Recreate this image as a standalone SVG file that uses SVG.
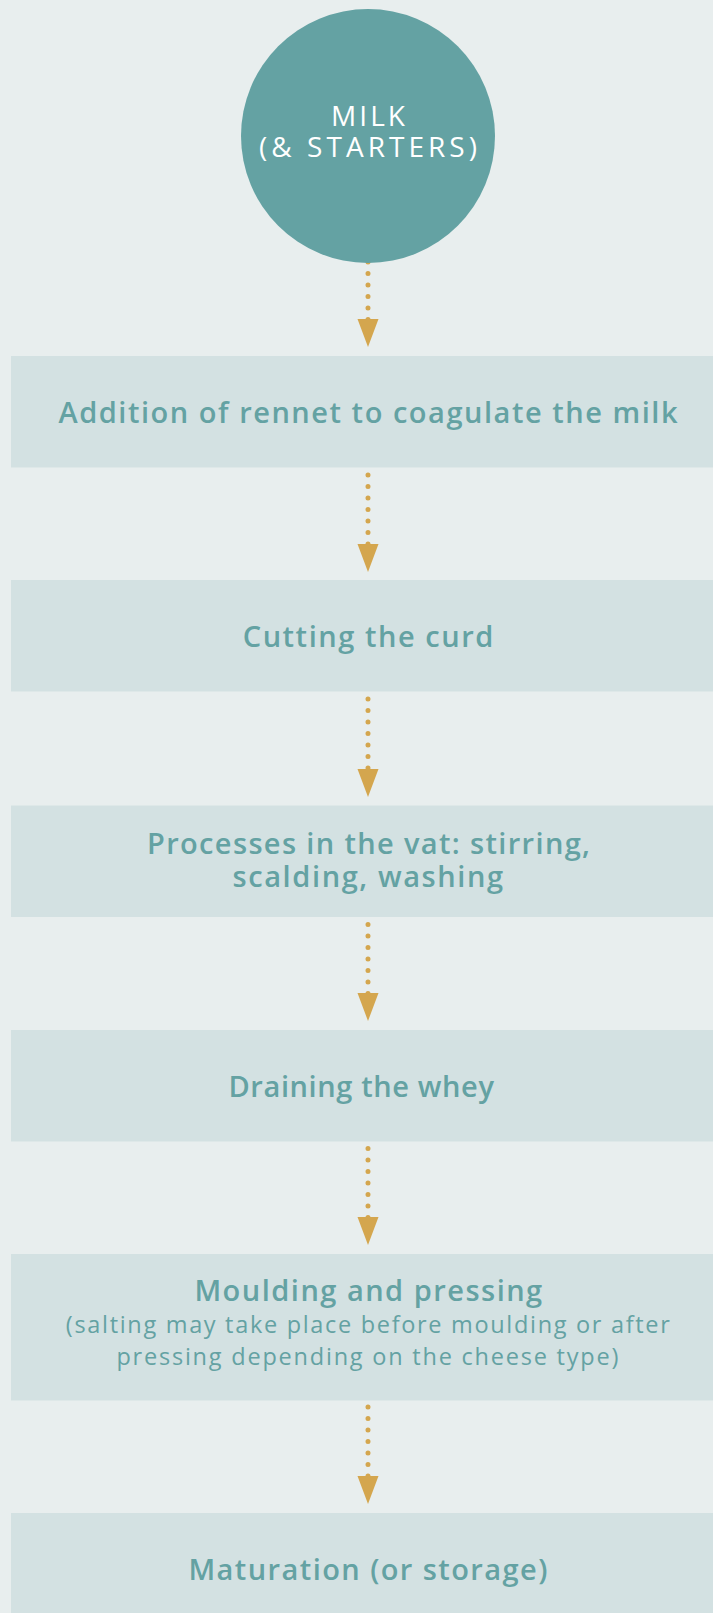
<svg xmlns="http://www.w3.org/2000/svg" xmlns:xlink="http://www.w3.org/1999/xlink" width="713" height="1613" viewBox="0 0 713 1613">
<defs>
<style>
.bg{fill:#e8eeee}
.box{fill:#d3e1e2}
.circ{fill:#64a2a3}
.t{font-family:"Open Sans","Noto Sans","Liberation Sans",sans-serif;fill:#64a2a3;text-anchor:middle}
.b{font-size:29px;font-weight:600}
.l{font-size:23.5px;font-weight:400}
.w{font-family:"Open Sans","Noto Sans","Liberation Sans",sans-serif;fill:#ffffff;text-anchor:middle;font-size:28px;font-weight:400}
.dots{stroke:#d4a64e;stroke-width:5;stroke-linecap:round;stroke-dasharray:0 11.5;fill:none}
.head{fill:#d4a64e}
</style>
<path id="tri" d="M-10.5,0 L10.5,0 L0,28 Z"/>
</defs>
<rect class="bg" x="0" y="0" width="713" height="1613"/>
<g id="connectors">
<line class="dots" x1="368" y1="262" x2="368" y2="319.6"/>
<use class="head" xlink:href="#tri" x="368" y="319"/>
<line class="dots" x1="368" y1="475" x2="368" y2="544.1"/>
<use class="head" xlink:href="#tri" x="368" y="544"/>
<line class="dots" x1="368" y1="699" x2="368" y2="768.1"/>
<use class="head" xlink:href="#tri" x="368" y="769"/>
<line class="dots" x1="368" y1="924.5" x2="368" y2="993.6"/>
<use class="head" xlink:href="#tri" x="368" y="993"/>
<line class="dots" x1="368" y1="1148.5" x2="368" y2="1217.6"/>
<use class="head" xlink:href="#tri" x="368" y="1217"/>
<line class="dots" x1="368" y1="1407" x2="368" y2="1476.1"/>
<use class="head" xlink:href="#tri" x="368" y="1476"/>
</g>
<g id="milk">
<circle class="circ" cx="368" cy="136" r="127"/>
<text class="w" x="368" y="126" textLength="74" lengthAdjust="spacing">MILK</text>
<text class="w" x="368" y="157" textLength="218" lengthAdjust="spacing">(&amp; STARTERS)</text>
</g>
<g id="rennet">
<rect class="box" x="11" y="356" width="702" height="111.5"/>
<text class="t b" x="368" y="422.7" textLength="619" lengthAdjust="spacing">Addition of rennet to coagulate the milk</text>
</g>
<g id="cutting">
<rect class="box" x="11" y="580" width="702" height="111.5"/>
<text class="t b" x="368" y="646.7" textLength="250.6" lengthAdjust="spacing">Cutting the curd</text>
</g>
<g id="vat">
<rect class="box" x="11" y="805.5" width="702" height="111.5"/>
<text class="t b" x="368.5" y="854.3" textLength="443" lengthAdjust="spacing">Processes in the vat: stirring,</text>
<text class="t b" x="367.8" y="886.7" textLength="270.6" lengthAdjust="spacing">scalding, washing</text>
</g>
<g id="draining">
<rect class="box" x="11" y="1030" width="702" height="111.5"/>
<text class="t b" x="361.2" y="1096.5" textLength="265.5" lengthAdjust="spacing">Draining the whey</text>
</g>
<g id="moulding">
<rect class="box" x="11" y="1254" width="702" height="146.5"/>
<text class="t b" x="368.3" y="1301" textLength="347.8" lengthAdjust="spacing">Moulding and pressing</text>
<text class="t l" x="367.8" y="1333.3" textLength="604" lengthAdjust="spacing">(salting may take place before moulding or after</text>
<text class="t l" x="367.4" y="1365" textLength="502" lengthAdjust="spacing">pressing depending on the cheese type)</text>
</g>
<g id="maturation">
<rect class="box" x="11" y="1513" width="702" height="111.5"/>
<text class="t b" x="367.9" y="1580" textLength="359" lengthAdjust="spacing">Maturation (or storage)</text>
</g>
</svg>
